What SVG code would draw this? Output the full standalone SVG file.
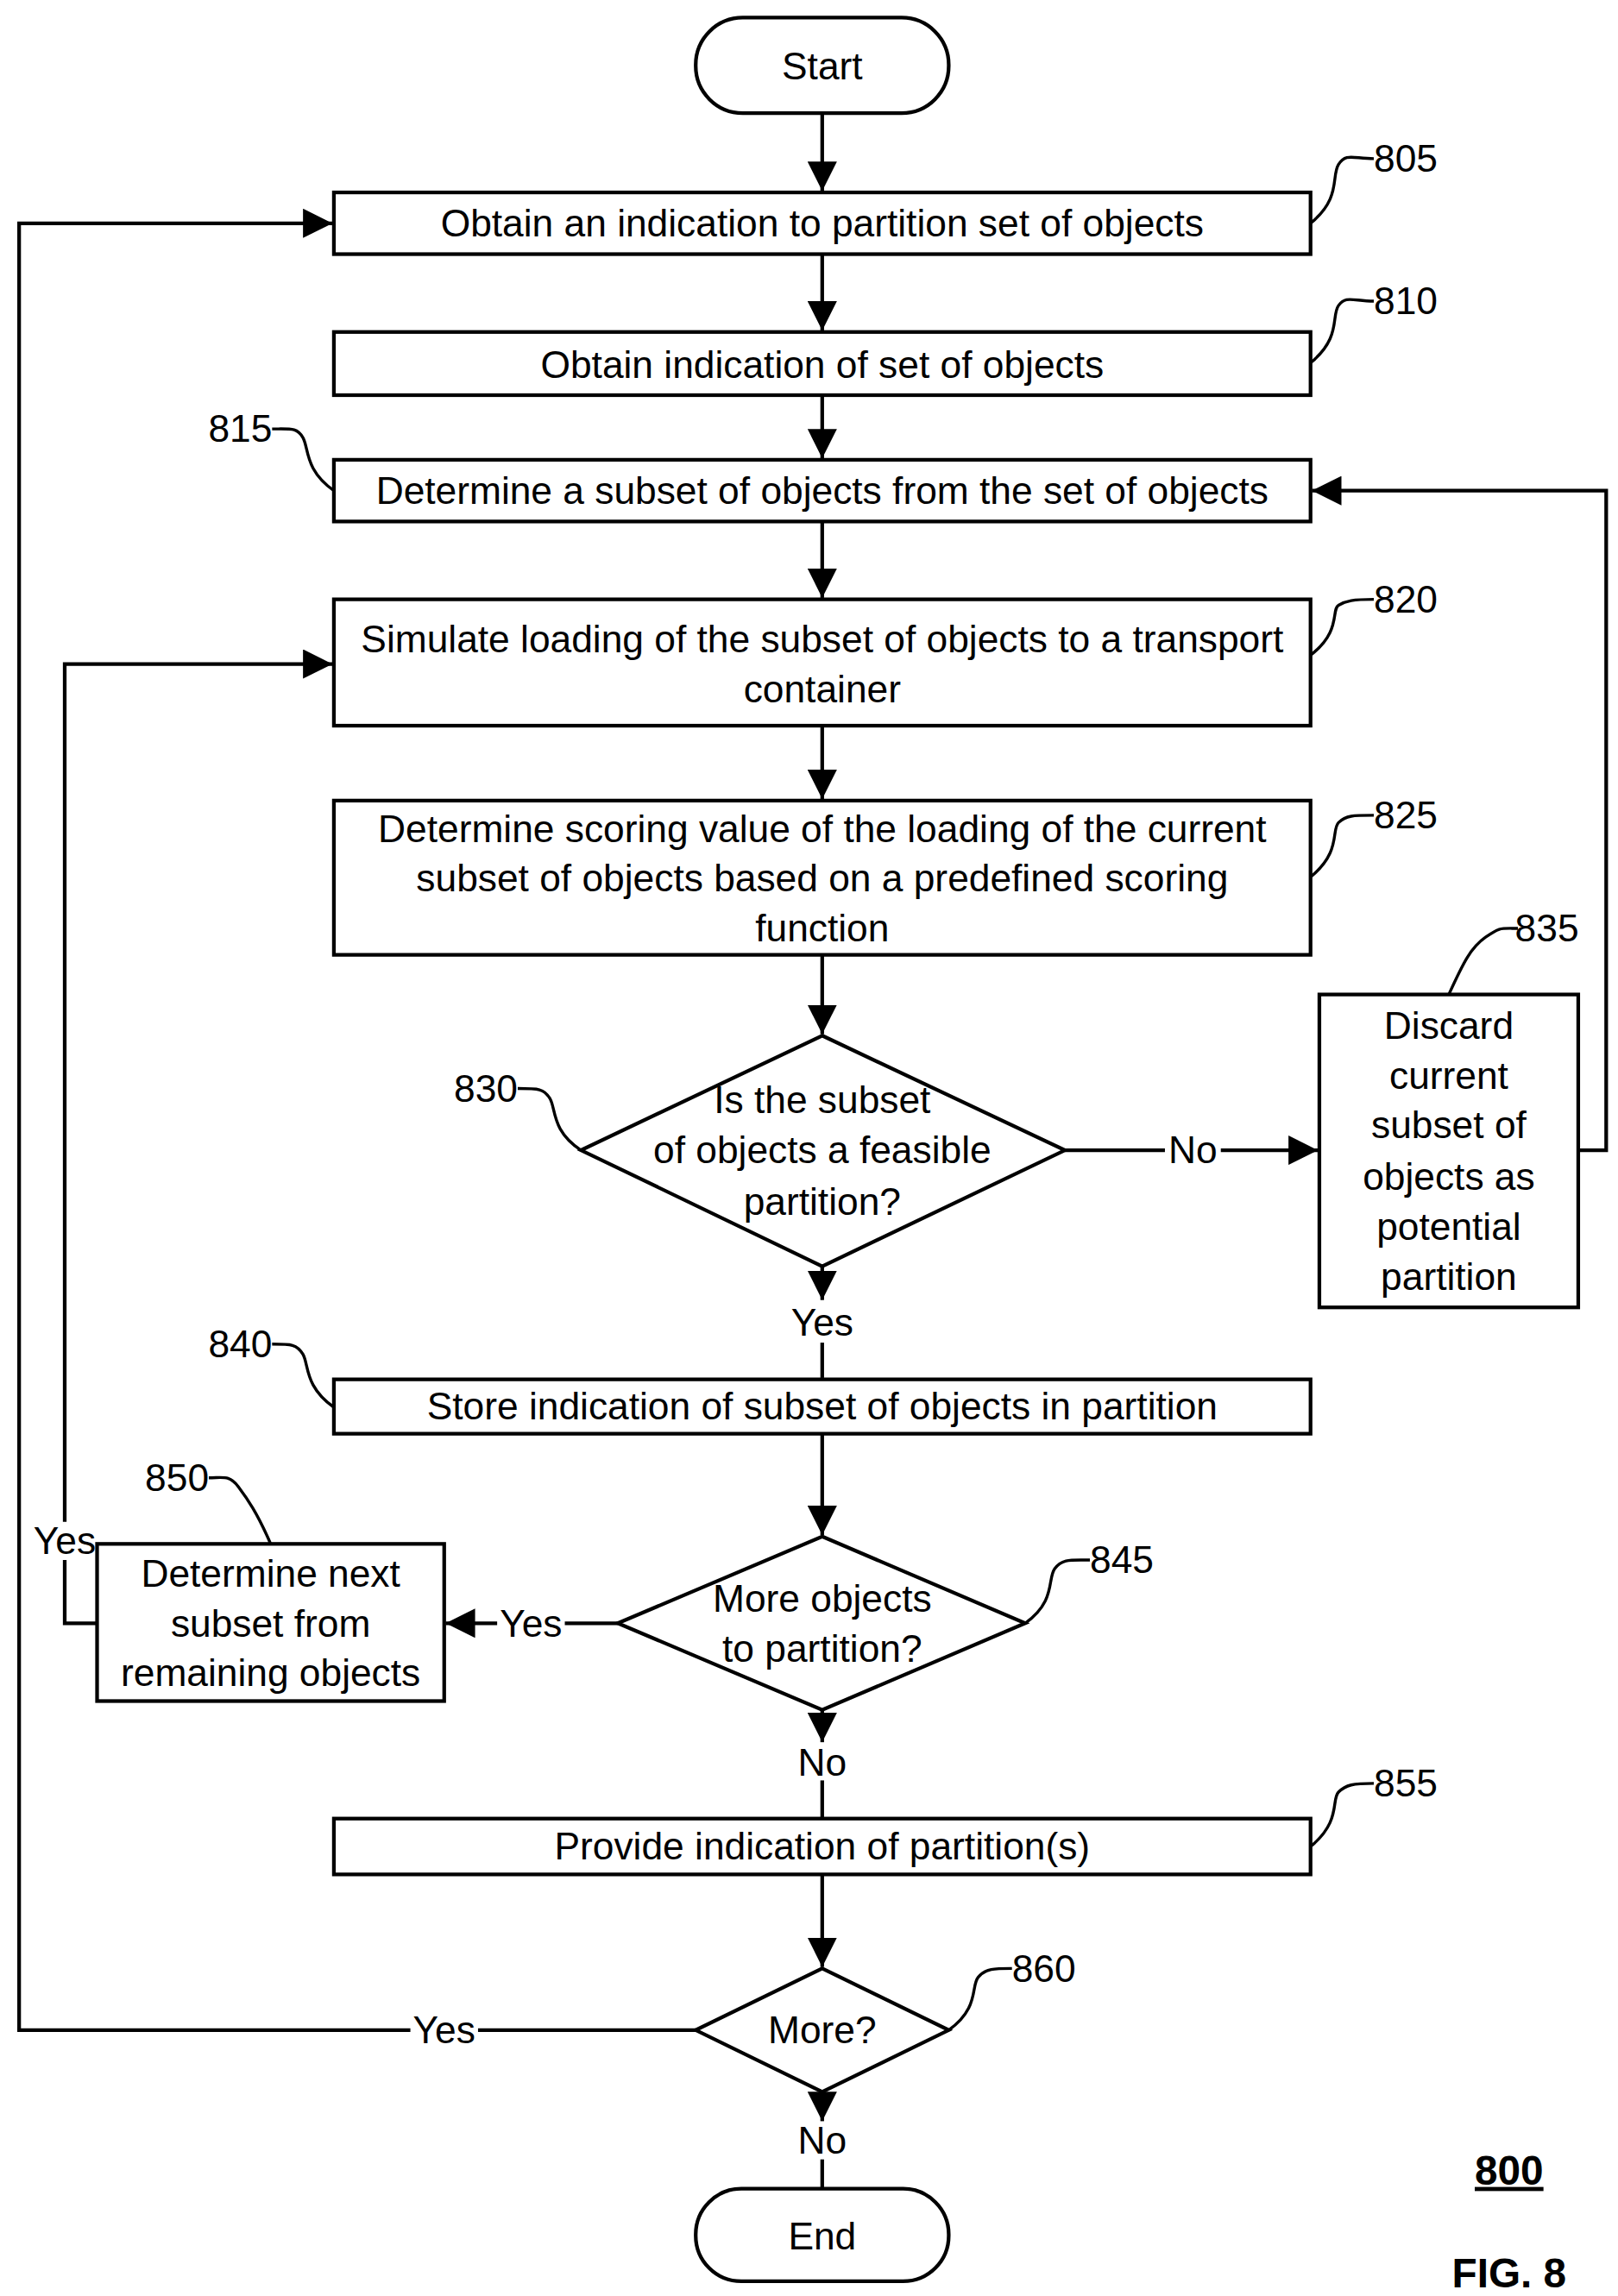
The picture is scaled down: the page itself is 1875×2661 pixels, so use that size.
<svg xmlns="http://www.w3.org/2000/svg" width="1875" height="2661" viewBox="0 0 1875 2661">
<style>
.b{fill:#fff;stroke:#000;stroke-width:2.5}
.l{fill:none;stroke:#000;stroke-width:2.5}
.c{fill:none;stroke:#000;stroke-width:2}
text{font-family:"Liberation Sans",Arial,sans-serif;font-size:26px;fill:#000}
.m{text-anchor:middle}
.f{font-size:28px}
</style>
<defs><marker id="A" viewBox="0 0 10 10" refX="10" refY="5" markerWidth="8" markerHeight="8" orient="auto"><path d="M0,0L10,5L0,10z"/></marker></defs>
<rect width="1875" height="2661" fill="#fff"/>
<g transform="scale(1.7045,1.7025)">
<g id="connectors">
<path class="l" marker-end="url(#A)" d="M559,77V130"/>
<path class="l" marker-end="url(#A)" d="M559,173V225"/>
<path class="l" marker-end="url(#A)" d="M559,269V312"/>
<path class="l" marker-end="url(#A)" d="M559,355V407"/>
<path class="l" marker-end="url(#A)" d="M559,494V544"/>
<path class="l" marker-end="url(#A)" d="M559,650V704"/>
<path class="l" d="M724,783H792"/><path class="l" marker-end="url(#A)" d="M830,783H896"/>
<text x="811" y="792" class="m">No</text>
<path class="l" marker-end="url(#A)" d="M1073,783H1092V334H892"/>
<path class="l" marker-end="url(#A)" d="M559,862V885"/><path class="l" d="M559,914V938"/>
<text x="559" y="909" class="m">Yes</text>
<path class="l" marker-end="url(#A)" d="M559,976V1045"/>
<path class="l" d="M420,1105H384"/><path class="l" marker-end="url(#A)" d="M338,1105H303"/>
<text x="361" y="1114" class="m">Yes</text>
<path class="l" d="M66,1105H44V1062"/><path class="l" marker-end="url(#A)" d="M44,1036V452H226"/>
<text x="44" y="1058" class="m">Yes</text>
<path class="l" marker-end="url(#A)" d="M559,1164V1186"/><path class="l" d="M559,1212V1238"/>
<text x="559" y="1209" class="m">No</text>
<path class="l" marker-end="url(#A)" d="M559,1276V1339"/>
<path class="l" d="M473,1382H325"/><path class="l" marker-end="url(#A)" d="M279,1382H13V152H226"/>
<text x="302" y="1391" class="m">Yes</text>
<path class="l" marker-end="url(#A)" d="M559,1424V1444"/><path class="l" d="M559,1470V1489"/>
<text x="559" y="1466" class="m">No</text>
</g>
<g id="start"><rect class="b" x="473" y="12" width="172" height="65" rx="32"/><text x="559" y="54" class="m">Start</text></g>
<g id="n805"><rect class="b" x="227" y="131" width="664" height="42"/><text x="559" y="161" class="m">Obtain an indication to partition set of objects</text>
<path class="c" d="M891,152C912,135 905,120 910,112S920,108 934,108"/><text x="934" y="117">805</text></g>
<g id="n810"><rect class="b" x="227" y="226" width="664" height="43"/><text x="559" y="257" class="m">Obtain indication of set of objects</text>
<path class="c" d="M891,247C912,230 905,215 910,208S920,205 934,205"/><text x="934" y="214">810</text></g>
<g id="n815"><rect class="b" x="227" y="313" width="664" height="42"/><text x="559" y="343" class="m">Determine a subset of objects from the set of objects</text>
<path class="c" d="M227,334C207,320 210,305 206,298S198,292 185,292"/><text x="185" y="301" text-anchor="end">815</text></g>
<g id="n820"><rect class="b" x="227" y="408" width="664" height="86"/><text x="559" y="444" class="m">Simulate loading of the subset of objects to a transport</text><text x="559" y="478" class="m">container</text>
<path class="c" d="M891,446C912,430 905,415 910,412S920,408 934,408"/><text x="934" y="417">820</text></g>
<g id="n825"><rect class="b" x="227" y="545" width="664" height="105"/><text x="559" y="573" class="m">Determine scoring value of the loading of the current</text><text x="559" y="607" class="m">subset of objects based on a predefined scoring</text><text x="559" y="641" class="m">function</text>
<path class="c" d="M891,597C912,580 905,565 910,560S920,555 934,555"/><text x="934" y="564">825</text></g>
<g id="n830"><path class="b" d="M559,705L724,783L559,862L395,783Z"/><text x="559" y="758" class="m">Is the  subset</text><text x="559" y="792" class="m">of objects a feasible</text><text x="559" y="827" class="m">partition?</text>
<path class="c" d="M395,783C375,770 378,755 374,748S366,741 352,741"/><text x="352" y="750" text-anchor="end">830</text></g>
<g id="n835"><rect class="b" x="897" y="677" width="176" height="213"/><text x="985" y="707" class="m">Discard</text><text x="985" y="741" class="m">current</text><text x="985" y="775" class="m">subset of</text><text x="985" y="810" class="m">objects as</text><text x="985" y="844" class="m">potential</text><text x="985" y="878" class="m">partition</text>
<path class="c" d="M985,677C995,655 1000,645 1010,638S1020,632 1032,632"/><text x="1030" y="641">835</text></g>
<g id="n840"><rect class="b" x="227" y="939" width="664" height="37"/><text x="559" y="966" class="m">Store indication of subset of objects in partition</text>
<path class="c" d="M227,958C207,944 210,929 206,922S198,915 185,915"/><text x="185" y="924" text-anchor="end">840</text></g>
<g id="n845"><path class="b" d="M559,1046L697,1105L559,1164L420,1105Z"/><text x="559" y="1097" class="m">More objects</text><text x="559" y="1131" class="m">to partition?</text>
<path class="c" d="M697,1105C718,1090 712,1075 717,1068S728,1062 741,1062"/><text x="741" y="1071">845</text></g>
<g id="n850"><rect class="b" x="66" y="1051" width="236" height="107"/><text x="184" y="1080" class="m">Determine next</text><text x="184" y="1114" class="m">subset from</text><text x="184" y="1148" class="m">remaining objects</text>
<path class="c" d="M184,1051C175,1030 168,1020 162,1012S152,1006 142,1006"/><text x="142" y="1015" text-anchor="end">850</text></g>
<g id="n855"><rect class="b" x="227" y="1238" width="664" height="38"/><text x="559" y="1266" class="m">Provide indication of partition(s)</text>
<path class="c" d="M891,1257C912,1240 905,1225 910,1220S920,1214 934,1214"/><text x="934" y="1223">855</text></g>
<g id="n860"><path class="b" d="M559,1340L645,1382L559,1424L473,1382Z"/><text x="559" y="1391" class="m">More?</text>
<path class="c" d="M645,1382C666,1367 660,1352 665,1346S676,1340 688,1340"/><text x="688" y="1349">860</text></g>
<g id="end"><rect class="b" x="473" y="1490" width="172" height="63" rx="31"/><text x="559" y="1531" class="m">End</text></g>
<g id="labels"><text x="1026" y="1487" class="m f" font-weight="bold" text-decoration="underline">800</text><text x="1026" y="1557" class="m f" font-weight="bold">FIG. 8</text></g>
</g>
</svg>
